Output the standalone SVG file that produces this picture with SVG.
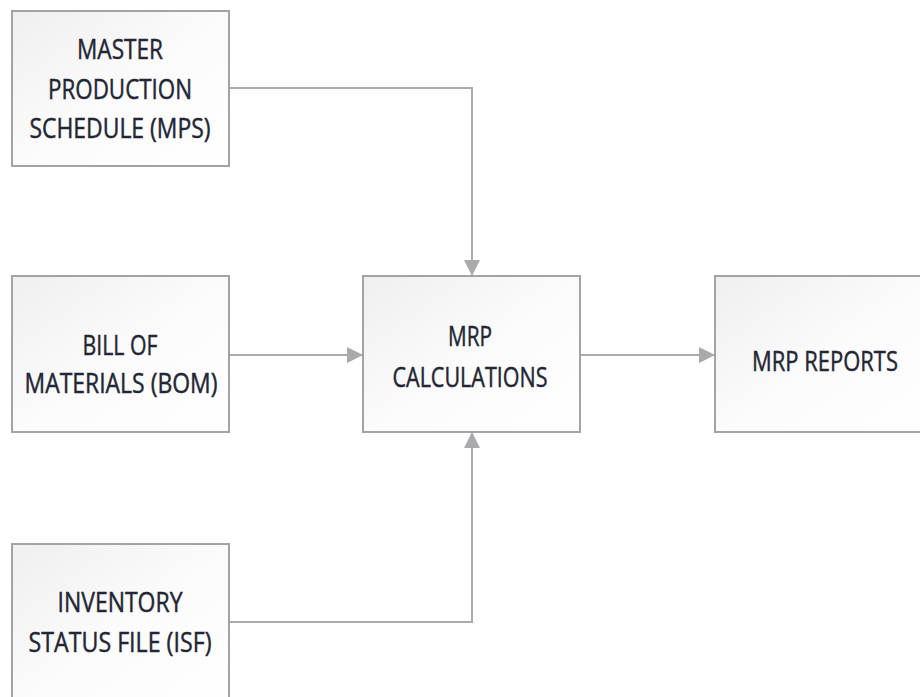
<svg xmlns="http://www.w3.org/2000/svg" width="920" height="697" viewBox="0 0 920 697">
  <defs>
    <linearGradient id="boxFill" x1="0" y1="0" x2="1" y2="1">
      <stop offset="0" stop-color="#efefef"/>
      <stop offset="0.5" stop-color="#fbfbfb"/>
      <stop offset="1" stop-color="#ffffff"/>
    </linearGradient>
    <marker id="arrow" markerUnits="userSpaceOnUse" markerWidth="16" markerHeight="16" viewBox="0 0 16 16" refX="16" refY="8" orient="auto">
      <path d="M0,0 L16,8 L0,16 Z" fill="#aaaaad"/>
    </marker>
  </defs>
  <style>
    .box { fill: url(#boxFill); stroke: #a3a3a6; stroke-width: 2; }
    .label { font-family: "Open Sans", "Noto Sans", sans-serif; font-size: 27px; fill: #232634; stroke: #232634; stroke-width: 0.45; text-anchor: middle; }
    .conn { fill: none; stroke: #ababae; stroke-width: 2; }
  </style>
  <rect width="920" height="697" fill="#ffffff"/>

  <g id="connectors">
    <path class="conn" d="M229,88 H472 V276" marker-end="url(#arrow)"/>
    <path class="conn" d="M229,355 H363" marker-end="url(#arrow)"/>
    <path class="conn" d="M580,355 H715" marker-end="url(#arrow)"/>
    <path class="conn" d="M229,622 H472 V432" marker-end="url(#arrow)"/>
  </g>

  <g id="mps">
    <rect class="box" x="12" y="11" width="217" height="155"/>
    <text class="label" x="120" y="59" textLength="86" lengthAdjust="spacingAndGlyphs">MASTER</text>
    <text class="label" x="120" y="99" textLength="144" lengthAdjust="spacingAndGlyphs">PRODUCTION</text>
    <text class="label" x="120" y="138" textLength="181" lengthAdjust="spacingAndGlyphs">SCHEDULE (MPS)</text>
  </g>

  <g id="bom">
    <rect class="box" x="12" y="276" width="217" height="156"/>
    <text class="label" x="120" y="355" textLength="75" lengthAdjust="spacingAndGlyphs">BILL OF</text>
    <text class="label" x="121" y="393" textLength="193" lengthAdjust="spacingAndGlyphs">MATERIALS (BOM)</text>
  </g>

  <g id="mrp-calculations">
    <rect class="box" x="363" y="276" width="217" height="156"/>
    <text class="label" x="470" y="346" textLength="44" lengthAdjust="spacingAndGlyphs">MRP</text>
    <text class="label" x="470" y="387" textLength="155" lengthAdjust="spacingAndGlyphs">CALCULATIONS</text>
  </g>

  <g id="mrp-reports">
    <rect class="box" x="715" y="276" width="217" height="156"/>
    <text class="label" x="825" y="371" textLength="146" lengthAdjust="spacingAndGlyphs">MRP REPORTS</text>
  </g>

  <g id="isf">
    <rect class="box" x="12" y="544" width="217" height="160"/>
    <text class="label" x="120" y="612" textLength="125" lengthAdjust="spacingAndGlyphs">INVENTORY</text>
    <text class="label" x="120" y="652" textLength="183" lengthAdjust="spacingAndGlyphs">STATUS FILE (ISF)</text>
  </g>
</svg>
